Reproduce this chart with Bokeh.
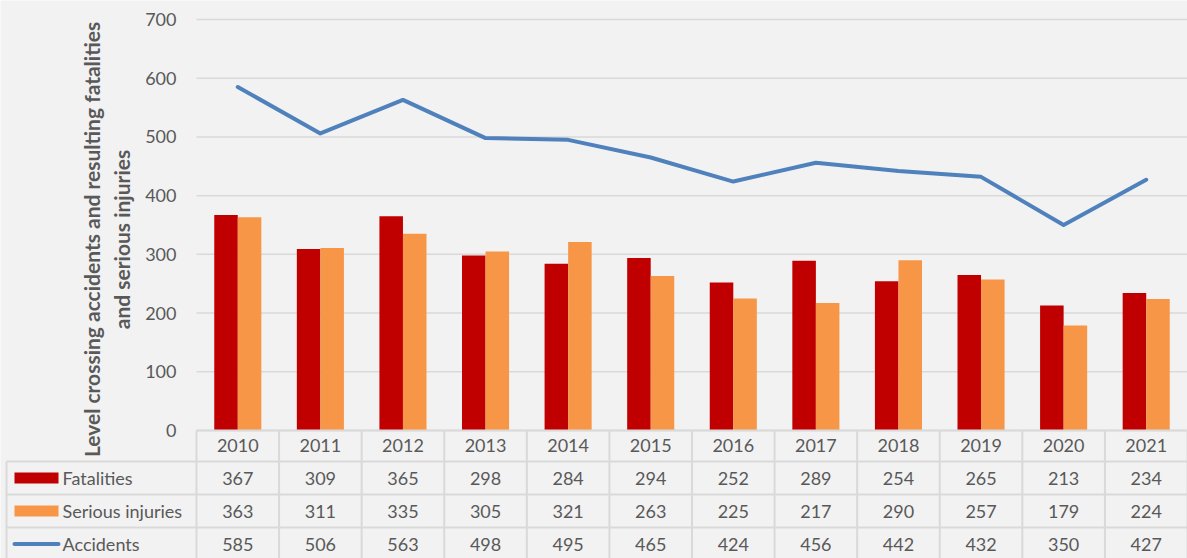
from bokeh.plotting import figure
from bokeh.models import Range1d, FixedTicker, ColumnDataSource
from bokeh.transform import dodge
from bokeh.core.properties import value
from bokeh.embed import file_html
from bokeh.resources import INLINE

# ---------------- data ----------------
years = [2010, 2011, 2012, 2013, 2014, 2015, 2016, 2017, 2018, 2019, 2020, 2021]
fatalities = [367, 309, 365, 298, 284, 294, 252, 289, 254, 265, 213, 234]
serious_injuries = [363, 311, 335, 305, 321, 263, 225, 217, 290, 257, 179, 224]
accidents = [585, 506, 563, 498, 495, 465, 424, 456, 442, 432, 350, 427]
series_names = ["Fatalities", "Serious injuries", "Accidents"]
y_ticks = [0, 100, 200, 300, 400, 500, 600, 700]
y_title = "Level crossing accidents and resulting fatalities\nand serious injuries"

# ---------------- style ----------------
FONT = "Lato"
FS = "18px"
TXT = "#595959"
GRID = "#d9d9d9"
BG = "#f2f2f2"
C_FAT = "#c00000"
C_SER = "#f79646"
C_ACC = "#4f81bd"

W, H = 1187, 558
LEFT = 196          # canvas x where the category axis starts
Y700, Y0 = 19, 430  # canvas y of 700 and of 0
HEAD_H, ROW_H = 31, 33
TABLE_LEFT = 6
n = len(years)
ppu = (W - LEFT) / n                               # px per category
ypp = (y_ticks[-1] - y_ticks[0]) / (Y0 - Y700)     # data units per px
bw = 0.285


def ux(canvas_px):
    return (canvas_px - LEFT) / ppu


def uy(px_below_zero):
    return -px_below_zero * ypp


xc = [i + 0.5 for i in range(n)]
src = ColumnDataSource(dict(x=xc, fat=fatalities, ser=serious_injuries, acc=accidents))

p = figure(width=W, height=H,
           x_range=Range1d(ux(0), n),
           y_range=Range1d(uy(H - Y0), y_ticks[-1] + Y700 * ypp),
           output_backend="svg", toolbar_location=None, tools="",
           min_border_left=0, min_border_right=0, min_border_top=0, min_border_bottom=0)
p.background_fill_color = BG
p.border_fill_color = BG
p.outline_line_color = None
p.grid.visible = False

# horizontal gridlines across the plot area
p.segment(x0=[0] * len(y_ticks), y0=y_ticks, x1=[n] * len(y_ticks), y1=y_ticks,
          line_color=GRID, line_width=1.5)

# bars and line
p.vbar(x=dodge('x', -bw / 2, range=p.x_range), top='fat', width=bw, source=src,
       fill_color=C_FAT, line_color=None)
p.vbar(x=dodge('x', bw / 2, range=p.x_range), top='ser', width=bw, source=src,
       fill_color=C_SER, line_color=None)
p.line('x', 'acc', source=src, line_width=4, line_color=C_ACC,
       line_cap='round', line_join='round')

# y axis at x = 0
ya = p.yaxis[0]
ya.fixed_location = 0
ya.bounds = (-50, 700)
ya.ticker = FixedTicker(ticks=y_ticks, minor_ticks=[])
ya.axis_line_color = None
ya.major_tick_line_color = None
ya.major_tick_out = 0
ya.major_tick_in = 0
ya.minor_tick_line_color = None
ya.major_label_standoff = 20
ya.major_label_text_font = FONT
ya.major_label_text_font_size = FS
ya.major_label_text_color = TXT
ya.axis_label = y_title
ya.axis_label_text_font = FONT
ya.axis_label_text_font_size = "21px"
ya.axis_label_text_font_style = "bold"
ya.axis_label_text_color = TXT
ya.axis_label_standoff = 8

# x axis (year header row) at y = 0
xa = p.xaxis[0]
xa.fixed_location = 0
xa.bounds = (0, n)
xa.ticker = FixedTicker(ticks=xc, minor_ticks=[])
xa.major_label_overrides = {x: str(y) for x, y in zip(xc, years)}
xa.axis_line_color = GRID
xa.axis_line_width = 2
xa.major_tick_line_color = None
xa.major_tick_out = 0
xa.major_tick_in = 0
xa.minor_tick_line_color = None
xa.major_label_standoff = 8
xa.major_label_text_font = FONT
xa.major_label_text_font_size = FS
xa.major_label_text_color = TXT

# ---------------- data table ----------------
row_tops = [HEAD_H + k * ROW_H for k in range(3)]
row_y = [uy(t + ROW_H / 2) for t in row_tops]
h_y = [uy(t) for t in row_tops]
p.segment(x0=[ux(TABLE_LEFT)] * 3, y0=h_y, x1=[n] * 3, y1=h_y, line_color=GRID, line_width=2)
v_x = list(range(n + 1))
p.segment(x0=v_x, y0=[0] * len(v_x), x1=v_x, y1=[uy(H - Y0)] * len(v_x),
          line_color=GRID, line_width=2)
p.segment(x0=[ux(TABLE_LEFT)], y0=[h_y[0]], x1=[ux(TABLE_LEFT)], y1=[uy(H - Y0)],
          line_color=GRID, line_width=2)

tx, ty, tt = [], [], []
for vals, yy in zip([fatalities, serious_injuries, accidents], row_y):
    tx += xc
    ty += [yy] * n
    tt += [str(v) for v in vals]
p.text(x=tx, y=ty, text=tt, text_align="center", text_baseline="middle",
       text_font=value(FONT), text_font_size=FS, text_color=TXT)

# legend keys in the table's first column
p.rect(x=[ux(36)] * 2, y=row_y[:2], width=44, height=11,
       width_units="screen", height_units="screen",
       fill_color=[C_FAT, C_SER], line_color=None)
p.segment(x0=[ux(14)], y0=[row_y[2]], x1=[ux(58)], y1=[row_y[2]],
          line_color=C_ACC, line_width=4, line_cap="round")
p.text(x=[ux(62)] * 3, y=row_y, text=series_names, text_align="left",
       text_baseline="middle", text_font=value(FONT), text_font_size=FS,
       text_color=TXT)

open("out.html", "w").write(file_html(p, INLINE))
